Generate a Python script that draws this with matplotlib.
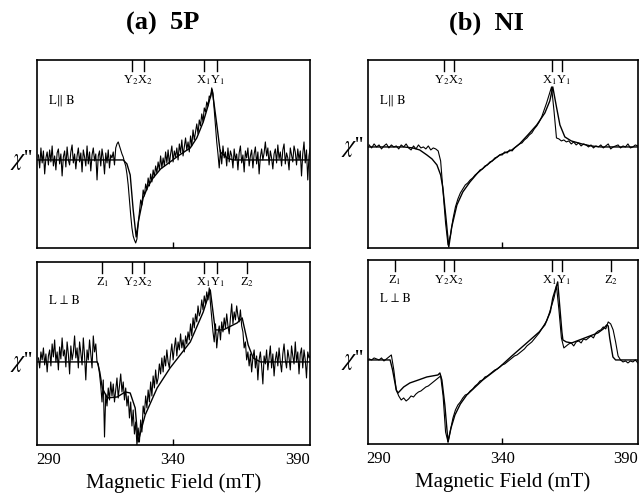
import matplotlib.pyplot as plt
import numpy as np

plt.rcParams['mathtext.fontset'] = 'stix'
plt.rcParams['font.family'] = ['Liberation Serif', 'DejaVu Serif']

# field grids (mT) of the measured traces
field_5p = np.arange(286.0, 395.01, 0.5)
field_ni = np.arange(286.0, 395.01, 1.0)

# (a) 5P, L || B  -- measured
exp_5p_par = [
    5, -8, 12, -3, 9, -14, 2, 8, -5, 10,
    -2, 14, -6, 4, -10, 7, 11, -4, 6, -16,
    3, 9, -7, 13, 0, -5, 8, 15, -3, 6,
    -9, 4, 12, -2, 7, -12, 10, 3, -6, 14,
    -4, 8, -11, 5, 12, -1, 6, -20, 4, 9,
    -6, 11, 2, -14, 7, -3, 10, -8, 5, 2,
    8, -5, 12, 16, 18, 14, 10, 6, 3, -2,
    -6, -14, -25, -40, -55, -68, -76, -80, -83, -79,
    -64, -52, -40, -45, -30, -36, -24, -30, -18, -26,
    -14, -22, -10, -17, -6, -13, -2, -10, 4, -8,
    2, -6, 8, -3, 10, -4, 6, 14, -2, 9,
    3, 12, 0, 16, 7, 20, 4, 13, 22, 10,
    18, 8, 24, 14, 30, 20, 28, 36, 26, 40,
    34, 46, 38, 52, 48, 58, 54, 64, 62, 72,
    66, 50, 34, 18, 6, -8, 10, -4, 14, 2,
    8, -6, 12, -2, 9, 4, -8, 11, 0, 6,
    -10, 7, 14, -3, 5, -12, 9, 2, 12, -6,
    4, 10, -8, 6, 13, -4, 8, -14, 3, 11,
    0, 7, 18, 4, 12, -5, 9, 2, -9, 6,
    11, -3, 15, 1, 8, -6, 10, 16, -4, 7,
    2, -10, 12, 5, -2, 14, 8, -5, 11, 0,
    9, -16, 6, 18, -3, 10, -20, 4, 12,
]
# (a) 5P, L || B  -- simulation
sim_5p_par_x = [285.5, 320.0, 321.5, 322.8, 324.0, 325.2, 326.2, 328.0, 330.0, 332.0,
                335.0, 338.8, 342.0, 346.9, 349.5, 352.1, 354.0, 355.7, 357.7, 358.9,
                361.7, 364.0, 395.0]
sim_5p_par_y = [0, 0, -4, -15, -50, -77, -60, -38, -26, -18,
                -9, -2, 4, 12, 22, 38, 54, 70, 32, 8,
                2, 0, 0]

# (a) 5P, L perp B  -- measured
exp_5p_perp = [
    4, -6, 10, 2, 14, -3, 8, -10, 6, 12,
    -4, 18, 5, 22, 0, 10, -8, 15, 3, 24,
    6, 12, -5, 20, 8, -12, 16, 2, 10, 26,
    4, 14, -6, 20, 9, -3, 24, 6, -18, 12,
    2, 22, 8, -6, 26, 10, 18, 0, -2, -12,
    -24, -40, -18, -75, -32, -44, -26, -38, -20, -34,
    -22, -40, -28, -16, -36, -24, -12, -30, -20, -38,
    -26, -44, -34, -56, -40, -64, -48, -72, -60, -83,
    -66, -80, -58, -70, -44, -52, -34, -46, -28, -40,
    -20, -34, -14, -26, -8, -22, -16, -2, -12, 4,
    -10, 6, -4, 12, 0, -6, 8, 18, 2, 14,
    24, 6, 20, 12, 28, 14, 22, 10, 26, 18,
    30, 22, 38, 26, 44, 34, 48, 40, 56, 46,
    50, 62, 52, 66, 58, 70, 62, 74, 58, 44,
    30, 20, 38, 14, 28, 36, 22, 40, 30, 44,
    34, 48, 36, 28, 44, 58, 38, 50, 42, 56,
    46, 40, 52, 36, 30, 14, 20, 2, 10, -4,
    8, -10, 4, 12, -6, 6, -18, 2, 10, -4,
    -22, 6, -2, 12, -8, 4, 16, -6, 8, -14,
    2, 10, -4, 14, 0, -10, 8, 18, 2, -6,
    12, 4, -8, 16, 6, -2, 20, 0, 10, -12,
    8, 14, -6, 12, 2, -16, 10, 4, 6,
]
sim_5p_perp_x = [285.5, 309.6, 310.6, 311.6, 313.6, 317.6, 320.8, 322.8, 324.8, 326.0,
                 327.2, 328.8, 333.6, 338.8, 346.9, 352.1, 354.9, 356.9, 360.1, 365.7,
                 367.7, 370.1, 372.1, 375.0, 395.0]
sim_5p_perp_y = [0, 0, -10, -26, -36, -35, -30, -31, -46, -80,
                 -68, -53, -26, -6, 20, 50, 72, 32, 32, 39,
                 44, 17, 4, 0, 0]

# (b) NI, L || B  -- measured
exp_ni_par = [
    2, -1, 3, 0, 2, -2, 1, 3, -1, 2,
    0, 1, -2, 2, 0, 3, -1, -3, 1, -2,
    2, -1, 0, -2, 1, -3, -1, -2, -4, -14,
    -45, -76, -98, -88, -72, -60, -52, -46, -42, -38,
    -36, -33, -31, -28, -26, -23, -22, -19, -18, -15,
    -14, -11, -10, -8, -8, -5, -6, -3, -4, -1,
    1, 3, 4, 7, 9, 12, 14, 18, 21, 25,
    30, 37, 44, 52, 60, 36, 9, 8, 6, 7,
    5, 6, 3, 5, 2, 4, 1, 3, 2, 0,
    2, -1, 1, 0, 2, -1, 1, 3, -2, 0,
    1, 2, -1, 1, 0, 3, -1, 0, 2, 1,
]
sim_ni_par_x = [285.5, 300.0, 303.7, 306.5, 309.4, 311.5, 313.5, 315.0, 315.9, 317.2,
                318.3, 319.5, 321.6, 324.0, 326.9, 330.0, 333.8, 339.0, 343.9, 347.0,
                350.4, 354.0, 357.3, 359.3, 360.5, 362.0, 363.4, 365.4, 368.0, 372.3,
                376.0, 380.0, 395.0]
sim_ni_par_y = [0, 0, -1, -3, -8, -12, -18, -28, -41, -72,
                -100, -80, -58, -45, -35, -26, -18, -8, -3, 3,
                12, 22, 34, 46, 60, 40, 22, 10, 6, 3,
                1, 0, 0]

# (b) NI, L perp B  -- measured
exp_ni_perp = [
    1, 0, 2, 1, 0, 2, -1, 1, 3, 5,
    -10, -30, -36, -40, -38, -41, -39, -36, -37, -34,
    -32, -31, -29, -27, -26, -24, -22, -20, -18, -16,
    -36, -72, -82, -70, -58, -50, -45, -42, -38, -35,
    -34, -31, -29, -26, -24, -21, -20, -17, -16, -14,
    -12, -10, -9, -7, -5, -4, -2, 0, 2, 4,
    5, 7, 9, 11, 14, 16, 18, 21, 24, 27,
    31, 35, 39, 46, 54, 62, 74, 50, 22, 12,
    14, 16, 17, 14, 18, 19, 17, 21, 20, 22,
    24, 22, 27, 29, 30, 33, 31, 38, 36, 30,
    18, 4, 0, -2, -1, -3, -1, -2, 0, -3,
]
sim_ni_perp_x = [285.5, 294.5, 295.5, 297.0, 297.7, 300.0, 302.5, 306.0, 309.4, 313.9,
                 314.7, 315.5, 316.7, 318.0, 319.2, 320.8, 323.0, 325.6, 332.1, 339.0,
                 343.9, 350.4, 355.0, 357.3, 359.5, 360.5, 362.5, 364.2, 364.6, 366.0,
                 368.2, 373.5, 378.8, 381.0, 382.4, 383.0, 383.6, 384.9, 386.0, 395.0]
sim_ni_perp_y = [0, 0, -10, -30, -33, -27, -23, -20, -17, -15,
                 -13, -20, -45, -82, -68, -55, -44, -35, -20, -7,
                 4, 18, 28, 35, 48, 62, 78, 28, 20, 18,
                 17, 22, 27, 31, 35, 34, 22, 3, 0, 0]

# resonance field markers (mT) and their labels
ticks_5p_par = [323.6, 328.4, 352.5, 357.7]
labels_5p_par = [('Y$_2$X$_2$', 326.0), ('X$_1$Y$_1$', 355.1)]
ticks_5p_perp = [311.6, 323.6, 328.4, 352.3, 357.7, 369.7]
labels_5p_perp = [('Z$_1$', 311.6), ('Y$_2$X$_2$', 326.0), ('X$_1$Y$_1$', 355.0),
                  ('Z$_2$', 369.7)]
ticks_ni_par = [316.3, 320.4, 360.1, 364.2]
labels_ni_par = [('Y$_2$X$_2$', 318.4), ('X$_1$Y$_1$', 362.2)]
ticks_ni_perp = [296.4, 316.3, 320.4, 360.1, 364.2, 384.0]
labels_ni_perp = [('Z$_1$', 296.4), ('Y$_2$X$_2$', 318.4), ('X$_1$Y$_1$', 362.2),
                  ('Z$_2$', 384.0)]

xticks = [290, 340, 390]

fig = plt.figure(figsize=(6.41, 4.95), dpi=100)

panels = [
    ([0.058, 0.499, 0.426, 0.380], field_5p, exp_5p_par, sim_5p_par_x, sim_5p_par_y,
     ticks_5p_par, labels_5p_par, (-88, 100), 'L\u2225 B', False),
    ([0.058, 0.101, 0.426, 0.370], field_5p, exp_5p_perp, sim_5p_perp_x, sim_5p_perp_y,
     ticks_5p_perp, labels_5p_perp, (-83, 100), 'L \u22a5 B', True),
    ([0.574, 0.499, 0.421, 0.380], field_ni, exp_ni_par, sim_ni_par_x, sim_ni_par_y,
     ticks_ni_par, labels_ni_par, (-101, 87), 'L\u2225 B', False),
    ([0.574, 0.103, 0.421, 0.372], field_ni, exp_ni_perp, sim_ni_perp_x, sim_ni_perp_y,
     ticks_ni_perp, labels_ni_perp, (-84, 100), 'L \u22a5 B', True),
]

for rect, fx, fy, sx, sy, mticks, mlabels, ylim, orient, bottom in panels:
    ax = fig.add_axes(rect)
    ax.plot(fx, fy, color='black', lw=0.8)
    ax.plot(sx, sy, color='black', lw=1.0)
    ax.set_xlim(285.5, 395)
    ax.set_ylim(*ylim)
    ax.set_yticks([])
    ax.set_xticks(xticks)
    ax.tick_params(axis='x', direction='in', length=4, width=1, labelsize=12, pad=5)
    for t in ax.xaxis.get_major_ticks():
        t.tick2line.set_visible(False)
    ax.xaxis.get_major_ticks()[0].tick1line.set_visible(False)
    ax.xaxis.get_major_ticks()[2].tick1line.set_visible(False)
    if bottom:
        ax.set_xlabel('Magnetic Field (mT)', fontsize=15, labelpad=4)
    else:
        ax.set_xticklabels([])
    for s in ax.spines.values():
        s.set_linewidth(1.2)
    trans = ax.get_xaxis_transform()
    for pos in mticks:
        ax.plot([pos, pos], [1.0, 0.94], transform=trans, color='black', lw=1.0)
    for lab, pos in mlabels:
        ax.text(pos, 0.89, lab, transform=trans, ha='center', va='center', fontsize=9)
    ax.text(0.045, 0.785, orient, transform=ax.transAxes, ha='left', va='center',
            fontsize=9, family=['STIXGeneral', 'DejaVu Serif'])
    ax.text(-0.015, 0.0, "$\\chi$''", transform=ax.get_yaxis_transform(),
            ha='right', va='center', fontsize=17)

fig.text(163 / 641, 1 - 23 / 495, '(a)  5P', ha='center', va='center',
         fontsize=19, fontweight='bold')
fig.text(486 / 641, 1 - 23 / 495, '(b)  NI', ha='center', va='center',
         fontsize=19, fontweight='bold')

fig.savefig('out.png', dpi=100)
